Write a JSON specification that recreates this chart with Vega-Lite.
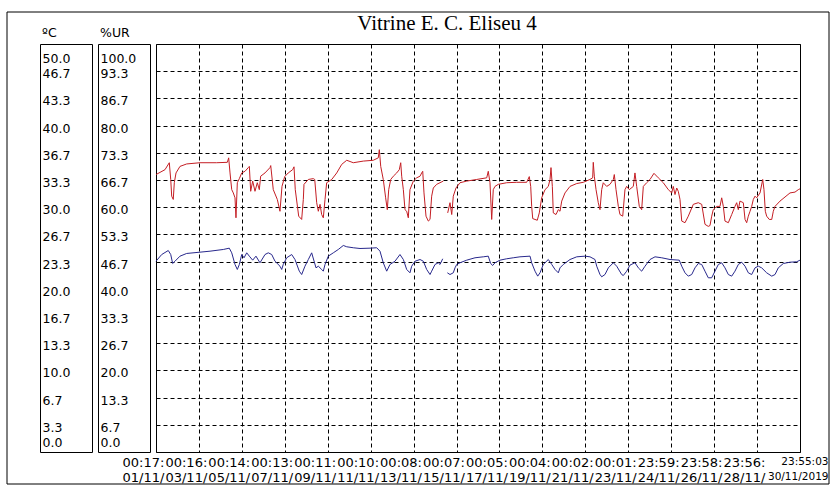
{
  "$schema": "https://vega.github.io/schema/vega-lite/v6.json",
  "padding": {"left": 7, "top": 12, "right": 0, "bottom": 0},
  "background": "white",
  "config": {
    "view": {"stroke": "black", "strokeWidth": 1},
    "font": "DejaVu Sans",
    "title": {"color": "black", "fontWeight": "normal"},
    "axis": {"labelColor": "black"}
  },
  "datasets": {
    "rh": [
      {"time": "2019-11-01T00:18", "value": 68.0, "part": 1},
      {"time": "2019-11-01T10:20", "value": 69.2, "part": 1},
      {"time": "2019-11-01T15:10", "value": 70.9, "part": 1},
      {"time": "2019-11-01T16:45", "value": 66.8, "part": 1},
      {"time": "2019-11-01T17:50", "value": 62.7, "part": 1},
      {"time": "2019-11-01T19:35", "value": 61.9, "part": 1},
      {"time": "2019-11-01T20:45", "value": 66.0, "part": 1},
      {"time": "2019-11-01T22:40", "value": 68.4, "part": 1},
      {"time": "2019-11-02T03:05", "value": 70.0, "part": 1},
      {"time": "2019-11-02T10:35", "value": 70.6, "part": 1},
      {"time": "2019-11-03T01:30", "value": 70.9, "part": 1},
      {"time": "2019-11-03T20:05", "value": 70.9, "part": 1},
      {"time": "2019-11-04T08:00", "value": 71.0, "part": 1},
      {"time": "2019-11-04T09:30", "value": 72.1, "part": 1},
      {"time": "2019-11-04T11:00", "value": 68.4, "part": 1},
      {"time": "2019-11-04T12:55", "value": 64.3, "part": 1},
      {"time": "2019-11-04T14:40", "value": 63.5, "part": 1},
      {"time": "2019-11-04T16:35", "value": 62.3, "part": 1},
      {"time": "2019-11-04T17:40", "value": 57.4, "part": 1},
      {"time": "2019-11-04T19:10", "value": 66.0, "part": 1},
      {"time": "2019-11-04T21:25", "value": 67.0, "part": 1},
      {"time": "2019-11-05T00:05", "value": 68.4, "part": 1},
      {"time": "2019-11-05T03:45", "value": 68.8, "part": 1},
      {"time": "2019-11-05T07:25", "value": 69.7, "part": 1},
      {"time": "2019-11-05T08:35", "value": 70.0, "part": 1},
      {"time": "2019-11-05T10:05", "value": 63.9, "part": 1},
      {"time": "2019-11-05T12:20", "value": 66.4, "part": 1},
      {"time": "2019-11-05T14:55", "value": 63.9, "part": 1},
      {"time": "2019-11-05T17:30", "value": 66.0, "part": 1},
      {"time": "2019-11-05T19:45", "value": 64.3, "part": 1},
      {"time": "2019-11-05T21:15", "value": 67.6, "part": 1},
      {"time": "2019-11-06T02:05", "value": 68.4, "part": 1},
      {"time": "2019-11-06T07:40", "value": 69.7, "part": 1},
      {"time": "2019-11-06T08:30", "value": 70.2, "part": 1},
      {"time": "2019-11-06T11:20", "value": 64.3, "part": 1},
      {"time": "2019-11-06T15:50", "value": 61.9, "part": 1},
      {"time": "2019-11-06T18:50", "value": 59.0, "part": 1},
      {"time": "2019-11-06T21:05", "value": 65.1, "part": 1},
      {"time": "2019-11-07T00:05", "value": 67.5, "part": 1},
      {"time": "2019-11-07T04:05", "value": 68.4, "part": 1},
      {"time": "2019-11-07T09:00", "value": 69.2, "part": 1},
      {"time": "2019-11-07T10:30", "value": 69.9, "part": 1},
      {"time": "2019-11-07T11:55", "value": 64.3, "part": 1},
      {"time": "2019-11-07T15:45", "value": 57.8, "part": 1},
      {"time": "2019-11-07T19:05", "value": 57.0, "part": 1},
      {"time": "2019-11-07T20:55", "value": 61.9, "part": 1},
      {"time": "2019-11-07T21:40", "value": 65.6, "part": 1},
      {"time": "2019-11-08T02:30", "value": 66.8, "part": 1},
      {"time": "2019-11-08T08:05", "value": 67.0, "part": 1},
      {"time": "2019-11-08T09:40", "value": 66.8, "part": 1},
      {"time": "2019-11-08T11:50", "value": 61.1, "part": 1},
      {"time": "2019-11-08T13:40", "value": 59.0, "part": 1},
      {"time": "2019-11-08T15:35", "value": 60.7, "part": 1},
      {"time": "2019-11-08T17:25", "value": 58.2, "part": 1},
      {"time": "2019-11-08T19:15", "value": 57.4, "part": 1},
      {"time": "2019-11-08T21:10", "value": 61.9, "part": 1},
      {"time": "2019-11-08T23:00", "value": 66.0, "part": 1},
      {"time": "2019-11-09T04:40", "value": 66.8, "part": 1},
      {"time": "2019-11-09T10:15", "value": 68.4, "part": 1},
      {"time": "2019-11-09T15:50", "value": 70.5, "part": 1},
      {"time": "2019-11-09T21:25", "value": 71.5, "part": 1},
      {"time": "2019-11-10T04:45", "value": 70.9, "part": 1},
      {"time": "2019-11-10T15:55", "value": 71.3, "part": 1},
      {"time": "2019-11-11T03:05", "value": 71.5, "part": 1},
      {"time": "2019-11-11T08:40", "value": 72.1, "part": 1},
      {"time": "2019-11-11T09:50", "value": 74.1, "part": 1},
      {"time": "2019-11-11T11:25", "value": 70.0, "part": 1},
      {"time": "2019-11-11T14:15", "value": 66.8, "part": 1},
      {"time": "2019-11-11T16:55", "value": 62.3, "part": 1},
      {"time": "2019-11-11T18:45", "value": 59.4, "part": 1},
      {"time": "2019-11-11T20:20", "value": 64.3, "part": 1},
      {"time": "2019-11-11T22:35", "value": 66.8, "part": 1},
      {"time": "2019-11-12T01:30", "value": 67.6, "part": 1},
      {"time": "2019-11-12T05:15", "value": 68.4, "part": 1},
      {"time": "2019-11-12T08:10", "value": 69.2, "part": 1},
      {"time": "2019-11-12T09:45", "value": 70.9, "part": 1},
      {"time": "2019-11-12T10:50", "value": 67.6, "part": 1},
      {"time": "2019-11-12T12:40", "value": 64.3, "part": 1},
      {"time": "2019-11-12T14:30", "value": 59.4, "part": 1},
      {"time": "2019-11-12T16:25", "value": 59.0, "part": 1},
      {"time": "2019-11-12T18:15", "value": 57.4, "part": 1},
      {"time": "2019-11-12T20:05", "value": 64.3, "part": 1},
      {"time": "2019-11-12T23:50", "value": 66.4, "part": 1},
      {"time": "2019-11-13T03:35", "value": 67.2, "part": 1},
      {"time": "2019-11-13T07:20", "value": 67.6, "part": 1},
      {"time": "2019-11-13T09:10", "value": 68.4, "part": 1},
      {"time": "2019-11-13T10:20", "value": 68.8, "part": 1},
      {"time": "2019-11-13T11:45", "value": 63.5, "part": 1},
      {"time": "2019-11-13T14:00", "value": 57.8, "part": 1},
      {"time": "2019-11-13T16:35", "value": 56.6, "part": 1},
      {"time": "2019-11-13T18:30", "value": 57.0, "part": 1},
      {"time": "2019-11-13T20:20", "value": 62.7, "part": 1},
      {"time": "2019-11-13T22:10", "value": 64.7, "part": 1},
      {"time": "2019-11-14T01:55", "value": 65.6, "part": 1},
      {"time": "2019-11-14T09:20", "value": 66.4, "part": 1},
      {"time": "2019-11-14T14:15", "value": 58.6, "part": 2},
      {"time": "2019-11-14T16:50", "value": 61.1, "part": 2},
      {"time": "2019-11-14T18:45", "value": 58.2, "part": 2},
      {"time": "2019-11-14T20:30", "value": 62.7, "part": 2},
      {"time": "2019-11-14T23:30", "value": 64.7, "part": 2},
      {"time": "2019-11-15T04:00", "value": 66.0, "part": 2},
      {"time": "2019-11-15T11:30", "value": 66.4, "part": 2},
      {"time": "2019-11-15T22:40", "value": 66.8, "part": 2},
      {"time": "2019-11-16T09:50", "value": 67.2, "part": 2},
      {"time": "2019-11-16T11:35", "value": 68.8, "part": 2},
      {"time": "2019-11-16T13:30", "value": 66.0, "part": 2},
      {"time": "2019-11-16T15:25", "value": 57.0, "part": 2},
      {"time": "2019-11-16T17:10", "value": 64.3, "part": 2},
      {"time": "2019-11-16T19:05", "value": 65.1, "part": 2},
      {"time": "2019-11-16T22:45", "value": 65.6, "part": 2},
      {"time": "2019-11-17T08:10", "value": 66.0, "part": 2},
      {"time": "2019-11-17T19:20", "value": 66.1, "part": 2},
      {"time": "2019-11-18T06:30", "value": 66.1, "part": 2},
      {"time": "2019-11-18T09:25", "value": 67.5, "part": 2},
      {"time": "2019-11-18T11:00", "value": 65.1, "part": 2},
      {"time": "2019-11-18T12:05", "value": 60.2, "part": 2},
      {"time": "2019-11-18T13:15", "value": 57.2, "part": 2},
      {"time": "2019-11-18T18:20", "value": 56.8, "part": 2},
      {"time": "2019-11-18T20:35", "value": 58.6, "part": 2},
      {"time": "2019-11-18T23:15", "value": 62.3, "part": 2},
      {"time": "2019-11-19T03:00", "value": 64.3, "part": 2},
      {"time": "2019-11-19T06:40", "value": 65.1, "part": 2},
      {"time": "2019-11-19T08:35", "value": 66.8, "part": 2},
      {"time": "2019-11-19T09:40", "value": 69.7, "part": 2},
      {"time": "2019-11-19T11:10", "value": 65.1, "part": 2},
      {"time": "2019-11-19T12:15", "value": 58.6, "part": 2},
      {"time": "2019-11-19T15:15", "value": 58.2, "part": 2},
      {"time": "2019-11-19T17:50", "value": 59.4, "part": 2},
      {"time": "2019-11-19T19:45", "value": 59.0, "part": 2},
      {"time": "2019-11-19T21:40", "value": 61.5, "part": 2},
      {"time": "2019-11-20T01:20", "value": 63.5, "part": 2},
      {"time": "2019-11-20T06:55", "value": 65.1, "part": 2},
      {"time": "2019-11-20T14:25", "value": 65.8, "part": 2},
      {"time": "2019-11-20T21:45", "value": 66.1, "part": 2},
      {"time": "2019-11-21T05:15", "value": 66.8, "part": 2},
      {"time": "2019-11-21T08:15", "value": 67.2, "part": 2},
      {"time": "2019-11-21T08:55", "value": 71.0, "part": 2},
      {"time": "2019-11-21T10:05", "value": 67.6, "part": 2},
      {"time": "2019-11-21T12:00", "value": 64.3, "part": 2},
      {"time": "2019-11-21T14:30", "value": 61.1, "part": 2},
      {"time": "2019-11-21T16:25", "value": 59.4, "part": 2},
      {"time": "2019-11-21T18:20", "value": 64.3, "part": 2},
      {"time": "2019-11-21T20:05", "value": 66.0, "part": 2},
      {"time": "2019-11-21T23:55", "value": 65.1, "part": 2},
      {"time": "2019-11-22T03:35", "value": 65.6, "part": 2},
      {"time": "2019-11-22T07:20", "value": 66.8, "part": 2},
      {"time": "2019-11-22T08:25", "value": 68.0, "part": 2},
      {"time": "2019-11-22T10:20", "value": 64.3, "part": 2},
      {"time": "2019-11-22T12:55", "value": 60.2, "part": 2},
      {"time": "2019-11-22T14:45", "value": 58.2, "part": 2},
      {"time": "2019-11-22T17:50", "value": 57.8, "part": 2},
      {"time": "2019-11-22T20:20", "value": 64.3, "part": 2},
      {"time": "2019-11-22T22:15", "value": 65.1, "part": 2},
      {"time": "2019-11-23T01:10", "value": 64.3, "part": 2},
      {"time": "2019-11-23T05:40", "value": 65.1, "part": 2},
      {"time": "2019-11-23T07:30", "value": 68.4, "part": 2},
      {"time": "2019-11-23T09:25", "value": 65.1, "part": 2},
      {"time": "2019-11-23T12:20", "value": 60.2, "part": 2},
      {"time": "2019-11-23T15:00", "value": 59.4, "part": 2},
      {"time": "2019-11-23T16:50", "value": 65.1, "part": 2},
      {"time": "2019-11-23T20:35", "value": 66.0, "part": 2},
      {"time": "2019-11-24T00:20", "value": 66.8, "part": 2},
      {"time": "2019-11-24T04:45", "value": 68.3, "part": 2},
      {"time": "2019-11-24T09:35", "value": 67.2, "part": 2},
      {"time": "2019-11-24T15:10", "value": 66.0, "part": 2},
      {"time": "2019-11-24T20:45", "value": 64.3, "part": 2},
      {"time": "2019-11-25T00:35", "value": 63.5, "part": 2},
      {"time": "2019-11-25T02:20", "value": 65.1, "part": 2},
      {"time": "2019-11-25T04:15", "value": 63.1, "part": 2},
      {"time": "2019-11-25T06:10", "value": 64.7, "part": 2},
      {"time": "2019-11-25T07:55", "value": 63.9, "part": 2},
      {"time": "2019-11-25T09:50", "value": 61.9, "part": 2},
      {"time": "2019-11-25T11:45", "value": 56.6, "part": 2},
      {"time": "2019-11-25T15:25", "value": 56.2, "part": 2},
      {"time": "2019-11-25T19:05", "value": 57.8, "part": 2},
      {"time": "2019-11-26T00:40", "value": 60.7, "part": 2},
      {"time": "2019-11-26T06:15", "value": 61.1, "part": 2},
      {"time": "2019-11-26T10:05", "value": 60.7, "part": 2},
      {"time": "2019-11-26T13:45", "value": 55.8, "part": 2},
      {"time": "2019-11-26T17:25", "value": 55.3, "part": 2},
      {"time": "2019-11-26T19:20", "value": 55.5, "part": 2},
      {"time": "2019-11-26T21:15", "value": 57.8, "part": 2},
      {"time": "2019-11-26T23:00", "value": 59.4, "part": 2},
      {"time": "2019-11-27T02:50", "value": 60.2, "part": 2},
      {"time": "2019-11-27T06:30", "value": 60.2, "part": 2},
      {"time": "2019-11-27T08:25", "value": 62.3, "part": 2},
      {"time": "2019-11-27T10:15", "value": 60.2, "part": 2},
      {"time": "2019-11-27T12:05", "value": 56.6, "part": 2},
      {"time": "2019-11-27T15:50", "value": 56.2, "part": 2},
      {"time": "2019-11-27T19:35", "value": 58.2, "part": 2},
      {"time": "2019-11-27T23:15", "value": 60.2, "part": 2},
      {"time": "2019-11-28T01:10", "value": 61.1, "part": 2},
      {"time": "2019-11-28T03:00", "value": 59.4, "part": 2},
      {"time": "2019-11-28T04:50", "value": 61.5, "part": 2},
      {"time": "2019-11-28T08:35", "value": 61.1, "part": 2},
      {"time": "2019-11-28T10:30", "value": 57.0, "part": 2},
      {"time": "2019-11-28T12:20", "value": 56.2, "part": 2},
      {"time": "2019-11-28T14:10", "value": 57.8, "part": 2},
      {"time": "2019-11-28T16:05", "value": 59.0, "part": 2},
      {"time": "2019-11-28T17:55", "value": 60.2, "part": 2},
      {"time": "2019-11-28T19:45", "value": 61.9, "part": 2},
      {"time": "2019-11-28T21:40", "value": 62.7, "part": 2},
      {"time": "2019-11-28T23:30", "value": 62.3, "part": 2},
      {"time": "2019-11-29T03:15", "value": 63.5, "part": 2},
      {"time": "2019-11-29T06:15", "value": 66.8, "part": 2},
      {"time": "2019-11-29T07:40", "value": 64.3, "part": 2},
      {"time": "2019-11-29T09:10", "value": 59.0, "part": 2},
      {"time": "2019-11-29T10:40", "value": 57.8, "part": 2},
      {"time": "2019-11-29T13:35", "value": 57.0, "part": 2},
      {"time": "2019-11-29T16:20", "value": 57.0, "part": 2},
      {"time": "2019-11-29T18:05", "value": 59.0, "part": 2},
      {"time": "2019-11-29T20:00", "value": 60.2, "part": 2},
      {"time": "2019-11-30T01:35", "value": 61.5, "part": 2},
      {"time": "2019-11-30T07:10", "value": 62.5, "part": 2},
      {"time": "2019-11-30T12:45", "value": 63.5, "part": 2},
      {"time": "2019-11-30T18:20", "value": 63.7, "part": 2},
      {"time": "2019-11-30T22:00", "value": 64.3, "part": 2},
      {"time": "2019-11-30T23:55", "value": 64.5, "part": 2}
    ],
    "temp": [
      {"time": "2019-11-01T00:18", "value": 23.38, "part": 1},
      {"time": "2019-11-01T06:40", "value": 24.20, "part": 1},
      {"time": "2019-11-01T14:00", "value": 24.69, "part": 1},
      {"time": "2019-11-01T16:45", "value": 24.20, "part": 1},
      {"time": "2019-11-01T18:55", "value": 23.10, "part": 1},
      {"time": "2019-11-01T21:30", "value": 23.38, "part": 1},
      {"time": "2019-11-02T03:05", "value": 24.00, "part": 1},
      {"time": "2019-11-02T10:35", "value": 24.33, "part": 1},
      {"time": "2019-11-03T01:30", "value": 24.49, "part": 1},
      {"time": "2019-11-03T12:40", "value": 24.61, "part": 1},
      {"time": "2019-11-04T03:30", "value": 24.82, "part": 1},
      {"time": "2019-11-04T10:10", "value": 24.98, "part": 1},
      {"time": "2019-11-04T12:55", "value": 24.41, "part": 1},
      {"time": "2019-11-04T16:35", "value": 22.98, "part": 1},
      {"time": "2019-11-04T19:10", "value": 22.37, "part": 1},
      {"time": "2019-11-04T21:25", "value": 22.98, "part": 1},
      {"time": "2019-11-05T00:05", "value": 24.20, "part": 1},
      {"time": "2019-11-05T02:40", "value": 23.80, "part": 1},
      {"time": "2019-11-05T05:40", "value": 24.41, "part": 1},
      {"time": "2019-11-05T08:35", "value": 24.00, "part": 1},
      {"time": "2019-11-05T12:20", "value": 23.51, "part": 1},
      {"time": "2019-11-05T16:00", "value": 24.00, "part": 1},
      {"time": "2019-11-05T20:30", "value": 23.19, "part": 1},
      {"time": "2019-11-06T02:05", "value": 24.20, "part": 1},
      {"time": "2019-11-06T05:45", "value": 24.41, "part": 1},
      {"time": "2019-11-06T09:35", "value": 24.20, "part": 1},
      {"time": "2019-11-06T13:15", "value": 23.38, "part": 1},
      {"time": "2019-11-06T18:50", "value": 22.77, "part": 1},
      {"time": "2019-11-06T20:45", "value": 22.37, "part": 1},
      {"time": "2019-11-06T22:30", "value": 22.98, "part": 1},
      {"time": "2019-11-07T02:20", "value": 23.80, "part": 1},
      {"time": "2019-11-07T07:55", "value": 24.20, "part": 1},
      {"time": "2019-11-07T11:35", "value": 23.59, "part": 1},
      {"time": "2019-11-07T16:25", "value": 22.16, "part": 1},
      {"time": "2019-11-07T19:05", "value": 21.75, "part": 1},
      {"time": "2019-11-07T22:45", "value": 22.77, "part": 1},
      {"time": "2019-11-08T02:30", "value": 23.59, "part": 1},
      {"time": "2019-11-08T06:15", "value": 24.41, "part": 1},
      {"time": "2019-11-08T11:05", "value": 22.57, "part": 1},
      {"time": "2019-11-08T13:40", "value": 22.77, "part": 1},
      {"time": "2019-11-08T17:25", "value": 22.37, "part": 1},
      {"time": "2019-11-08T19:15", "value": 22.16, "part": 1},
      {"time": "2019-11-08T21:10", "value": 22.98, "part": 1},
      {"time": "2019-11-09T00:50", "value": 24.00, "part": 1},
      {"time": "2019-11-09T06:25", "value": 24.41, "part": 1},
      {"time": "2019-11-09T12:00", "value": 24.82, "part": 1},
      {"time": "2019-11-09T17:35", "value": 25.31, "part": 1},
      {"time": "2019-11-09T21:25", "value": 25.15, "part": 1},
      {"time": "2019-11-10T04:45", "value": 25.03, "part": 1},
      {"time": "2019-11-10T12:15", "value": 24.94, "part": 1},
      {"time": "2019-11-10T23:25", "value": 24.98, "part": 1},
      {"time": "2019-11-11T06:55", "value": 25.03, "part": 1},
      {"time": "2019-11-11T10:35", "value": 24.61, "part": 1},
      {"time": "2019-11-11T14:15", "value": 23.19, "part": 1},
      {"time": "2019-11-11T18:05", "value": 22.16, "part": 1},
      {"time": "2019-11-11T21:45", "value": 22.98, "part": 1},
      {"time": "2019-11-12T03:20", "value": 23.38, "part": 1},
      {"time": "2019-11-12T08:55", "value": 24.20, "part": 1},
      {"time": "2019-11-12T12:40", "value": 23.59, "part": 1},
      {"time": "2019-11-12T16:25", "value": 22.37, "part": 1},
      {"time": "2019-11-12T20:05", "value": 21.96, "part": 1},
      {"time": "2019-11-12T22:00", "value": 22.77, "part": 1},
      {"time": "2019-11-13T01:45", "value": 23.38, "part": 1},
      {"time": "2019-11-13T07:20", "value": 23.59, "part": 1},
      {"time": "2019-11-13T11:00", "value": 23.38, "part": 1},
      {"time": "2019-11-13T14:45", "value": 22.37, "part": 1},
      {"time": "2019-11-13T18:30", "value": 21.75, "part": 1},
      {"time": "2019-11-13T20:20", "value": 22.16, "part": 1},
      {"time": "2019-11-14T00:05", "value": 22.98, "part": 1},
      {"time": "2019-11-14T03:45", "value": 23.19, "part": 1},
      {"time": "2019-11-14T05:40", "value": 22.98, "part": 1},
      {"time": "2019-11-14T08:40", "value": 23.68, "part": 1},
      {"time": "2019-11-14T13:50", "value": 21.96, "part": 2},
      {"time": "2019-11-14T16:50", "value": 21.75, "part": 2},
      {"time": "2019-11-14T20:30", "value": 21.96, "part": 2},
      {"time": "2019-11-14T22:25", "value": 22.57, "part": 2},
      {"time": "2019-11-15T00:20", "value": 22.98, "part": 2},
      {"time": "2019-11-15T04:00", "value": 23.19, "part": 2},
      {"time": "2019-11-15T11:30", "value": 23.51, "part": 2},
      {"time": "2019-11-15T20:45", "value": 23.80, "part": 2},
      {"time": "2019-11-16T06:00", "value": 23.92, "part": 2},
      {"time": "2019-11-16T11:35", "value": 24.00, "part": 2},
      {"time": "2019-11-16T14:15", "value": 23.10, "part": 2},
      {"time": "2019-11-16T16:30", "value": 22.86, "part": 2},
      {"time": "2019-11-16T19:05", "value": 23.19, "part": 2},
      {"time": "2019-11-17T00:40", "value": 23.51, "part": 2},
      {"time": "2019-11-17T08:10", "value": 23.68, "part": 2},
      {"time": "2019-11-17T15:30", "value": 23.80, "part": 2},
      {"time": "2019-11-17T23:00", "value": 23.92, "part": 2},
      {"time": "2019-11-18T10:15", "value": 24.00, "part": 2},
      {"time": "2019-11-18T12:05", "value": 23.19, "part": 2},
      {"time": "2019-11-18T15:50", "value": 22.16, "part": 2},
      {"time": "2019-11-18T18:50", "value": 21.55, "part": 2},
      {"time": "2019-11-18T21:25", "value": 21.96, "part": 2},
      {"time": "2019-11-19T01:05", "value": 22.98, "part": 2},
      {"time": "2019-11-19T06:40", "value": 23.59, "part": 2},
      {"time": "2019-11-19T10:30", "value": 22.98, "part": 2},
      {"time": "2019-11-19T14:10", "value": 22.37, "part": 2},
      {"time": "2019-11-19T17:50", "value": 21.96, "part": 2},
      {"time": "2019-11-19T19:45", "value": 22.57, "part": 2},
      {"time": "2019-11-19T23:25", "value": 22.98, "part": 2},
      {"time": "2019-11-20T06:55", "value": 23.59, "part": 2},
      {"time": "2019-11-20T14:25", "value": 23.92, "part": 2},
      {"time": "2019-11-20T23:40", "value": 24.00, "part": 2},
      {"time": "2019-11-21T05:15", "value": 23.92, "part": 2},
      {"time": "2019-11-21T10:50", "value": 23.59, "part": 2},
      {"time": "2019-11-21T12:45", "value": 22.77, "part": 2},
      {"time": "2019-11-21T16:25", "value": 21.75, "part": 2},
      {"time": "2019-11-21T18:20", "value": 21.47, "part": 2},
      {"time": "2019-11-21T22:00", "value": 21.75, "part": 2},
      {"time": "2019-11-22T01:45", "value": 22.57, "part": 2},
      {"time": "2019-11-22T07:20", "value": 23.19, "part": 2},
      {"time": "2019-11-22T11:05", "value": 22.77, "part": 2},
      {"time": "2019-11-22T16:40", "value": 21.75, "part": 2},
      {"time": "2019-11-22T18:30", "value": 21.63, "part": 2},
      {"time": "2019-11-22T22:15", "value": 22.16, "part": 2},
      {"time": "2019-11-23T01:55", "value": 22.90, "part": 2},
      {"time": "2019-11-23T07:30", "value": 23.20, "part": 2},
      {"time": "2019-11-23T11:15", "value": 22.57, "part": 2},
      {"time": "2019-11-23T15:00", "value": 22.16, "part": 2},
      {"time": "2019-11-23T18:45", "value": 22.77, "part": 2},
      {"time": "2019-11-24T00:20", "value": 23.59, "part": 2},
      {"time": "2019-11-24T05:55", "value": 23.92, "part": 2},
      {"time": "2019-11-24T13:25", "value": 23.80, "part": 2},
      {"time": "2019-11-24T22:40", "value": 23.59, "part": 2},
      {"time": "2019-11-25T09:00", "value": 23.51, "part": 2},
      {"time": "2019-11-25T11:45", "value": 22.77, "part": 2},
      {"time": "2019-11-25T15:25", "value": 21.96, "part": 2},
      {"time": "2019-11-25T19:05", "value": 21.55, "part": 2},
      {"time": "2019-11-25T22:55", "value": 21.75, "part": 2},
      {"time": "2019-11-26T02:35", "value": 22.57, "part": 2},
      {"time": "2019-11-26T06:15", "value": 23.10, "part": 2},
      {"time": "2019-11-26T10:05", "value": 22.98, "part": 2},
      {"time": "2019-11-26T13:45", "value": 22.16, "part": 2},
      {"time": "2019-11-26T17:25", "value": 21.35, "part": 2},
      {"time": "2019-11-26T21:15", "value": 21.35, "part": 2},
      {"time": "2019-11-27T00:55", "value": 22.16, "part": 2},
      {"time": "2019-11-27T04:40", "value": 22.98, "part": 2},
      {"time": "2019-11-27T08:25", "value": 23.19, "part": 2},
      {"time": "2019-11-27T12:05", "value": 22.57, "part": 2},
      {"time": "2019-11-27T15:50", "value": 21.75, "part": 2},
      {"time": "2019-11-27T19:35", "value": 21.55, "part": 2},
      {"time": "2019-11-27T23:15", "value": 22.16, "part": 2},
      {"time": "2019-11-28T03:00", "value": 22.98, "part": 2},
      {"time": "2019-11-28T06:45", "value": 23.26, "part": 2},
      {"time": "2019-11-28T10:30", "value": 22.77, "part": 2},
      {"time": "2019-11-28T14:10", "value": 21.96, "part": 2},
      {"time": "2019-11-28T17:55", "value": 21.75, "part": 2},
      {"time": "2019-11-28T21:40", "value": 22.57, "part": 2},
      {"time": "2019-11-29T01:20", "value": 22.77, "part": 2},
      {"time": "2019-11-29T05:05", "value": 22.57, "part": 2},
      {"time": "2019-11-29T10:40", "value": 21.96, "part": 2},
      {"time": "2019-11-29T16:20", "value": 21.55, "part": 2},
      {"time": "2019-11-29T20:00", "value": 21.75, "part": 2},
      {"time": "2019-11-29T23:40", "value": 22.57, "part": 2},
      {"time": "2019-11-30T05:15", "value": 23.10, "part": 2},
      {"time": "2019-11-30T12:45", "value": 23.26, "part": 2},
      {"time": "2019-11-30T20:15", "value": 23.31, "part": 2},
      {"time": "2019-11-30T23:55", "value": 23.51, "part": 2}
    ]
  },
  "bounds": "flush",
  "spacing": 6,
  "hconcat": [
    {
      "width": 52,
      "height": 408,
      "title": {"text": "ºC", "anchor": "start", "frame": "group", "fontSize": 12.5, "font": "DejaVu Sans", "fontWeight": "normal", "color": "black", "offset": -5.5, "baseline": "alphabetic", "dx": 2},
      "data": {"name": "temp"},
      "mark": {"type": "tick", "opacity": 0},
      "encoding": {
        "y": {
          "field": "value", "type": "quantitative",
          "scale": {"domain": [0, 50], "nice": false, "zero": false},
          "axis": {
            "title": null, "orient": "left", "domain": false, "ticks": false, "tickSize": 0, "grid": false,
            "labelAlign": "left", "labelPadding": -2, "labelFontSize": 12.5, "labelFont": "DejaVu Sans", "labelColor": "black",
            "labelFlush": true, "labelFlushOffset": -5.5, "labelOffset": 2.5, "labelOverlap": false,
            "format": ".1f",
            "values": [0, 3.333333, 6.666667, 10, 13.333333, 16.666667, 20, 23.333333, 26.666667, 30, 33.333333, 36.666667, 40, 43.333333, 46.666667, 50]
          }
        }
      }
    },
    {
      "width": 52,
      "height": 408,
      "title": {"text": "%UR", "anchor": "start", "frame": "group", "fontSize": 12.5, "font": "DejaVu Sans", "fontWeight": "normal", "color": "black", "offset": -5.5, "baseline": "alphabetic", "dx": 2},
      "data": {"name": "rh"},
      "mark": {"type": "tick", "opacity": 0},
      "encoding": {
        "y": {
          "field": "value", "type": "quantitative",
          "scale": {"domain": [0, 100], "nice": false, "zero": false},
          "axis": {
            "title": null, "orient": "left", "domain": false, "ticks": false, "tickSize": 0, "grid": false,
            "labelAlign": "left", "labelPadding": -2, "labelFontSize": 12.5, "labelFont": "DejaVu Sans", "labelColor": "black",
            "labelFlush": true, "labelFlushOffset": -5.5, "labelOffset": 2.5, "labelOverlap": false,
            "format": ".1f",
            "values": [0, 6.666667, 13.333333, 20, 26.666667, 33.333333, 40, 46.666667, 53.333333, 60, 66.666667, 73.333333, 80, 86.666667, 93.333333, 100]
          }
        }
      }
    },
    {
      "width": 644,
      "height": 408,
      "title": {"text": "Vitrine E. C. Eliseu 4", "anchor": "middle", "frame": "group", "font": "Liberation Serif", "fontSize": 21, "fontWeight": "normal", "color": "black", "offset": -7, "baseline": "alphabetic", "dx": -31},
      "layer": [
        {
          "data": {"name": "rh"},
          "mark": {"type": "line", "color": "#c41e24", "strokeWidth": 1},
          "encoding": {
            "x": {
              "field": "time", "type": "temporal",
              "scale": {"domain": [
                {"year": 2019, "month": 11, "date": 1, "hours": 0, "minutes": 17, "seconds": 33},
                {"year": 2019, "month": 11, "date": 30, "hours": 23, "minutes": 55, "seconds": 3}
              ], "nice": false},
              "axis": {
                "title": null, "orient": "bottom", "domain": false, "ticks": false, "tickSize": 0,
                "grid": true, "gridColor": "black", "gridDash": [4, 3], "gridOpacity": 1, "gridWidth": 1,
                "values": [
                  {"year": 2019, "month": 11, "date": 1, "hours": 0, "minutes": 17, "seconds": 33},
                  {"year": 2019, "month": 11, "date": 3, "hours": 0, "minutes": 16, "seconds": 3},
                  {"year": 2019, "month": 11, "date": 5, "hours": 0, "minutes": 14, "seconds": 33},
                  {"year": 2019, "month": 11, "date": 7, "hours": 0, "minutes": 13, "seconds": 3},
                  {"year": 2019, "month": 11, "date": 9, "hours": 0, "minutes": 11, "seconds": 33},
                  {"year": 2019, "month": 11, "date": 11, "hours": 0, "minutes": 10, "seconds": 3},
                  {"year": 2019, "month": 11, "date": 13, "hours": 0, "minutes": 8, "seconds": 33},
                  {"year": 2019, "month": 11, "date": 15, "hours": 0, "minutes": 7, "seconds": 3},
                  {"year": 2019, "month": 11, "date": 17, "hours": 0, "minutes": 5, "seconds": 33},
                  {"year": 2019, "month": 11, "date": 19, "hours": 0, "minutes": 4, "seconds": 3},
                  {"year": 2019, "month": 11, "date": 21, "hours": 0, "minutes": 2, "seconds": 33},
                  {"year": 2019, "month": 11, "date": 23, "hours": 0, "minutes": 1, "seconds": 3},
                  {"year": 2019, "month": 11, "date": 24, "hours": 23, "minutes": 59, "seconds": 33},
                  {"year": 2019, "month": 11, "date": 26, "hours": 23, "minutes": 58, "seconds": 3},
                  {"year": 2019, "month": 11, "date": 28, "hours": 23, "minutes": 56, "seconds": 33},
                  {"year": 2019, "month": 11, "date": 30, "hours": 23, "minutes": 55, "seconds": 3}
                ],
                "labelExpr": "datum.value > datetime(2019, 10, 30) ? [timeFormat(datum.value, '%H:%M:%S'), timeFormat(datum.value, '%d/%m/%Y')] : [timeFormat(datum.value, '%H:%M:'), timeFormat(datum.value, '%d/%m/')]",
                "labelAlign": {"condition": {"test": "datum.value > datetime(2019, 10, 30)", "value": "right"}, "value": "left"},
                "labelOffset": {"condition": {"test": "datum.value > datetime(2019, 10, 30)", "value": 28}, "value": -34},
                "labelFontSize": {"condition": {"test": "datum.value > datetime(2019, 10, 30)", "value": 10.5}, "value": 13},
                "labelBaseline": "top",
                "labelPadding": 4,
                "labelFont": "DejaVu Sans",
                "labelLineHeight": 15,
                "labelColor": "black",
                "labelOverlap": false,
                "labelBound": false,
                "labelFlush": false
              }
            },
            "y": {
              "field": "value", "type": "quantitative",
              "scale": {"domain": [0, 100], "nice": false, "zero": false},
              "axis": null
            },
            "detail": {"field": "part", "type": "nominal"}
          }
        },
        {
          "data": {"name": "temp"},
          "mark": {"type": "line", "color": "#28288c", "strokeWidth": 1},
          "encoding": {
            "x": {"field": "time", "type": "temporal"},
            "y": {
              "field": "value", "type": "quantitative",
              "scale": {"domain": [0, 50], "nice": false, "zero": false},
              "axis": {
                "title": null, "labels": false, "ticks": false, "domain": false,
                "grid": true, "gridColor": "black", "gridDash": [4, 3], "gridOpacity": 1, "gridWidth": 1,
                "values": [3.333333, 6.666667, 10, 13.333333, 16.666667, 20, 23.333333, 26.666667, 30, 33.333333, 36.666667, 40, 43.333333, 46.666667]
              }
            },
            "detail": {"field": "part", "type": "nominal"}
          }
        },
        {
          "data": {"name": "temp"},
          "mark": {"type": "point", "opacity": 0, "size": 1},
          "encoding": {
            "color": {
              "field": "value", "type": "quantitative",
              "scale": {"range": ["rgba(255,255,255,0)", "rgba(255,255,255,0)"]},
              "legend": {
                "type": "gradient", "direction": "vertical",
                "orient": "none", "legendX": -33, "legendY": -32,
                "gradientLength": 472, "gradientThickness": 822,
                "gradientStrokeColor": "black", "gradientStrokeWidth": 1,
                "labelExpr": "''", "labelOpacity": 0, "labelFontSize": 1, "labelOffset": -20,
                "title": null, "padding": 0, "offset": 0
              }
            }
          }
        }
      ],
      "resolve": {"scale": {"y": "independent"}}
    }
  ]
}
